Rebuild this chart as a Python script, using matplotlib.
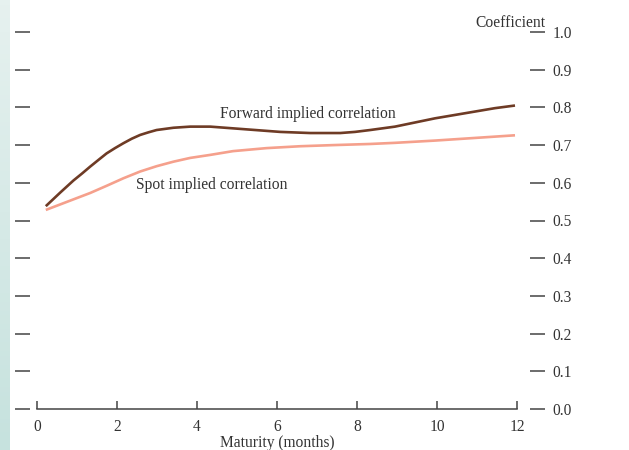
import numpy as np
import matplotlib
matplotlib.use("Agg")
import matplotlib.pyplot as plt

plt.rcParams['font.family'] = ['Liberation Serif', 'DejaVu Serif']

# months to maturity and implied correlation coefficients
fwd_months = [0.22, 0.58, 0.91, 1.13, 1.33, 1.54, 1.74, 1.95, 2.16, 2.37, 2.58, 2.79, 2.99,
              3.41, 3.83, 4.33, 4.58, 5.33, 6.08, 6.83, 7.58, 7.95, 8.33, 8.95, 9.45, 9.95,
              10.45, 10.95, 11.45, 11.95]
forward = [0.538, 0.574, 0.606, 0.625, 0.643, 0.661, 0.678, 0.692, 0.705, 0.717, 0.727,
           0.734, 0.740, 0.746, 0.749, 0.749, 0.747, 0.741, 0.735, 0.732, 0.732, 0.735, 0.740,
           0.749, 0.760, 0.771, 0.780, 0.789, 0.798, 0.805]

spot_months = [0.22, 0.91, 1.33, 1.74, 2.16, 2.58, 2.99, 3.41, 3.83, 4.33, 4.9, 5.74,
               6.58, 7.41, 8.33, 8.95, 9.95, 10.95, 11.95]
spot = [0.528, 0.556, 0.573, 0.592, 0.612, 0.630, 0.644, 0.656, 0.666, 0.674, 0.684, 0.692,
        0.697, 0.700, 0.703, 0.706, 0.712, 0.719, 0.726]

x_ticks = [0, 2, 4, 6, 8, 10, 12]
y_ticks = [0.0, 0.1, 0.2, 0.3, 0.4, 0.5, 0.6, 0.7, 0.8, 0.9, 1.0]

fig = plt.figure(figsize=(6.29, 4.5), dpi=100)

# pale teal strip on the left edge
strip = fig.add_axes([0, 0, 10 / 629, 1])
grad = np.linspace(0, 1, 100).reshape(-1, 1)
strip.imshow(grad, aspect='auto', cmap=matplotlib.colors.LinearSegmentedColormap.from_list(
    'strip', ['#c6e2de', '#e6f1ef']), origin='lower', extent=[0, 1, 0, 1])
strip.axis('off')

ax = fig.add_axes([37 / 629, 41 / 450, 480 / 629, 377 / 450])
ax.plot(spot_months, spot, color='#f5a08c', lw=1.9, solid_capstyle='butt')
ax.plot(fwd_months, forward, color='#6e3b25', lw=1.9, solid_capstyle='butt')

ax.set_xlim(0, 12)
ax.set_ylim(0, 1.0)

ax.spines['top'].set_visible(False)
# spine offsets are in points (100 dpi -> 0.72 pt per px)
ax.spines['left'].set_position(('outward', 7 * 0.72))
ax.spines['right'].set_position(('outward', 13 * 0.72))
ax.spines['left'].set_visible(False)
ax.spines['right'].set_visible(False)
ax.spines['bottom'].set_color('#444444')
ax.spines['bottom'].set_linewidth(1.1)

ax.set_xticks(x_ticks)
ax.set_xticklabels([str(t) for t in x_ticks])
ax.tick_params(axis='x', direction='in', length=6, width=1.1, color='#444444',
               labelsize=11.2, labelcolor='#333333', pad=7)

ax.set_yticks(y_ticks)
ax.set_yticklabels(['%.1f' % t for t in y_ticks])
ax.tick_params(axis='y', left=True, right=True, labelleft=False, labelright=True,
               direction='out', length=11, width=1.1, color='#444444',
               labelsize=11.2, labelcolor='#333333', pad=5)

ax.set_xlabel('Maturity (months)', fontsize=11.2, color='#333333', labelpad=0)

ax.text(6.77, 0.782, 'Forward implied correlation', fontsize=11.2, color='#333333',
        ha='center', va='center')
ax.text(2.48, 0.595, 'Spot implied correlation', fontsize=11.2, color='#333333',
        ha='left', va='center')
ax.text(12.7, 1.012, 'Coefficient', fontsize=11.2, color='#333333', ha='right',
        va='baseline', clip_on=False)

fig.savefig('out.png', dpi=100)
